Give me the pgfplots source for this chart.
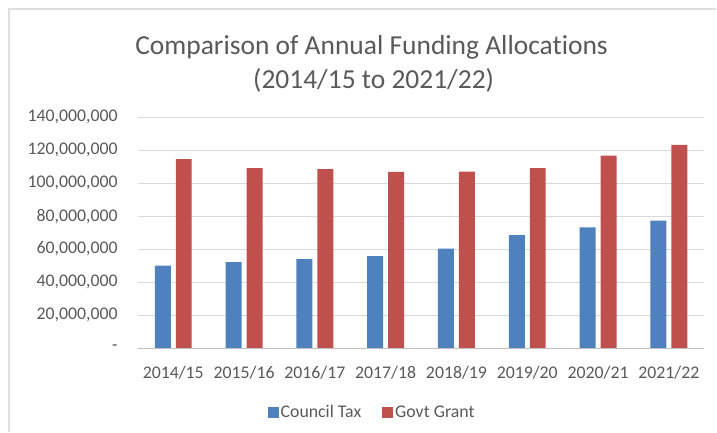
\documentclass[border=0pt]{standalone}
\usepackage{pgfplots}
\pgfplotsset{compat=1.18}
\usepackage{fontspec}
\setmainfont{Carlito}[Ligatures=NoCommon]
\definecolor{ctax}{HTML}{4F81BD}
\definecolor{grant}{HTML}{C0504D}
\definecolor{txt}{HTML}{595959}
\definecolor{gridc}{HTML}{D9D9D9}

\begin{document}
\begin{tikzpicture}
\path (0pt,0pt) rectangle (717pt,432pt);
% chart frame (only the top and left edges show in the crop)
\draw[gray!25, line width=1.5pt] (9pt,0pt) -- (9pt,423pt) -- (717pt,423pt);
\node[txt, font=\fontsize{27.5}{33}\selectfont] at (372pt,385pt) {Comparison of Annual Funding Allocations};
\node[txt, font=\fontsize{27.5}{33}\selectfont] at (374pt,352pt) {(2014/15 to 2021/22)};
\begin{axis}[
    at={(138pt,83.7pt)}, anchor=south west,
    scale only axis, width=567pt, height=231pt,
    ybar=5pt, bar width=16pt,
    xmin=-0.5, xmax=7.5, ymin=0, ymax=140000000,
    xtick=data,
    xticklabels={2014/15,2015/16,2016/17,2017/18,2018/19,2019/20,2020/21,2021/22},
    ytick={0,20000000,40000000,60000000,80000000,100000000,120000000,140000000},
    yticklabels={-,{20,000,000},{40,000,000},{60,000,000},{80,000,000},{100,000,000},{120,000,000},{140,000,000}},
    scaled y ticks=false,
    axis x line*=bottom, axis y line*=left,
    x axis line style={-, draw=gray!50, line width=0.8pt},
    y axis line style={draw=none},
    major tick length=0pt,
    ymajorgrids, major grid style={gridc, line width=0.8pt},
    ticklabel style={txt, font=\fontsize{17.8}{21}\selectfont, inner sep=0pt},
    yticklabel style={anchor=east, xshift=-20pt},
    xticklabel style={anchor=north, yshift=-18pt},
    legend columns=2,
    legend style={at={(0.4136,-0.2800)}, anchor=center, draw=none, fill=none,
        font=\fontsize{17.8}{21}\selectfont, text=txt,
        nodes={inner xsep=2pt, inner ysep=0pt},
        /tikz/every odd column/.append style={column sep=0pt},
        /tikz/every even column/.append style={column sep=19pt}},
    legend image code/.code={\path[#1] (0pt,-5.5pt) rectangle (11pt,5.5pt);},
]
\addplot[fill=ctax, draw=none] coordinates {
    (0,50000000) (1,52100000) (2,53900000) (3,55700000)
    (4,60200000) (5,68500000) (6,73100000) (7,77200000)};
\addplot[fill=grant, draw=none] coordinates {
    (0,114500000) (1,109100000) (2,108500000) (3,106800000)
    (4,107000000) (5,109100000) (6,116700000) (7,123200000)};
\legend{Council Tax, Govt Grant}
\end{axis}
\end{tikzpicture}
\end{document}
